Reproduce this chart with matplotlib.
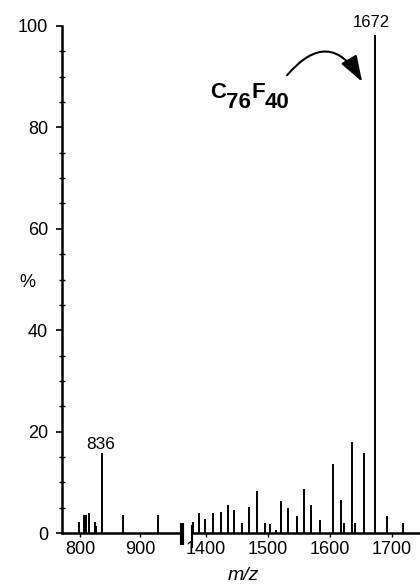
import numpy as np
import matplotlib.pyplot as plt
from matplotlib.ticker import MultipleLocator

plt.rcParams['font.family'] = ['Liberation Sans', 'DejaVu Sans']

# Peaks, left part of the broken axis (m/z, %)
mz_left = [798, 807, 810, 815.5, 825, 827, 836, 872, 930]
int_left = [2.2, 3.5, 3.5, 3.9, 2.2, 1.4, 15.8, 3.5, 3.5]

# Peaks, right part of the broken axis
mz_right = [1378.5, 1387.6, 1398.4, 1410.8, 1424.2, 1435, 1445.6, 1457.6, 1469.8,
            1482.7, 1495.2, 1503.2, 1512.9, 1521, 1532.7, 1546.3, 1558.5, 1569.8,
            1583.9, 1604.8, 1617.4, 1623, 1635, 1640.3, 1654.8, 1672, 1691.5, 1717]
int_right = [2.2, 4.0, 2.7, 3.9, 4.2, 5.5, 4.5, 2.0, 5.1,
             8.3, 2.0, 1.7, 0.5, 6.4, 4.9, 3.4, 8.6, 5.6,
             2.6, 13.7, 6.5, 1.9, 18.0, 2.0, 15.7, 98.2, 3.3, 2.0]

xticks_left = [800, 900]
xticks_right = [1400, 1500, 1600, 1700]

# formula pieces: (text, shifted down?)
formula = [('C', False), ('76', True), ('F', False), ('40', True)]

fig = plt.figure(figsize=(4.2, 5.84), dpi=100)
ax1 = fig.add_axes([0.1476, 0.0873, 0.2857, 0.8682])
ax2 = fig.add_axes([0.4571, 0.0873, 0.5429, 0.8682], sharey=ax1)

for ax, mz, inten in [(ax1, mz_left, int_left), (ax2, mz_right, int_right)]:
    ax.vlines(mz, 0, inten, color='black', lw=1.4)
    ax.spines['top'].set_visible(False)
    ax.spines['right'].set_visible(False)
    ax.spines['bottom'].set_linewidth(1.8)
    ax.tick_params(axis='x', direction='out', length=3, width=1, labelsize=13, pad=3)

ax1.set_xlim(770, 970)
ax2.set_xlim(1377, 1745)
ax1.set_xticks(xticks_left)
ax2.set_xticks(xticks_right)

ax1.set_ylim(0, 100)
ax1.yaxis.set_major_locator(MultipleLocator(20))
ax1.yaxis.set_minor_locator(MultipleLocator(5))
ax1.spines['left'].set_linewidth(1.8)
ax1.tick_params(axis='y', which='major', direction='out', length=4, width=1.2, labelsize=13, pad=6)
ax1.tick_params(axis='y', which='minor', direction='inout', length=4, width=1)
ax1.set_ylabel('%', rotation=0, fontsize=13, va='center')
ax1.yaxis.set_label_coords(-0.29, 0.495)

ax2.spines['left'].set_visible(False)
ax2.tick_params(axis='y', which='both', left=False, labelleft=False)

# break markers
ax1.plot([1, 1], [-0.024, 0.02], transform=ax1.transAxes, color='black',
         lw=3, clip_on=False, solid_capstyle='butt')
ax2.plot([0, 0], [-0.03, 0.016], transform=ax2.transAxes, color='black',
         lw=1.5, clip_on=False, solid_capstyle='butt')

ax1.text(835, 16.6, '836', ha='center', va='baseline', fontsize=12.5)
ax2.text(1666, 99.8, '1672', ha='center', va='baseline', fontsize=12)

# C76F40 with full-size lowered numbers
fig.canvas.draw()
dx = 0
for s, low in formula:
    t = ax2.annotate(s, xy=(1406.5, 85.8), xytext=(dx, -10 if low else 0),
                     textcoords='offset pixels', ha='left', va='baseline',
                     fontsize=16, fontweight='bold')
    dx += t.get_window_extent(fig.canvas.get_renderer()).width

ax2.annotate('', xy=(1651.6, 89), xytext=(1530.6, 90.3),
             arrowprops=dict(arrowstyle='-|>,head_length=1.6,head_width=0.55',
                             connectionstyle='arc3,rad=-0.7', color='black', lw=1.5,
                             shrinkA=0, shrinkB=0))

fig.text(0.579, 0.014, 'm/z', style='italic', fontsize=14, ha='center', va='center')

plt.savefig('out.png', dpi=100)
